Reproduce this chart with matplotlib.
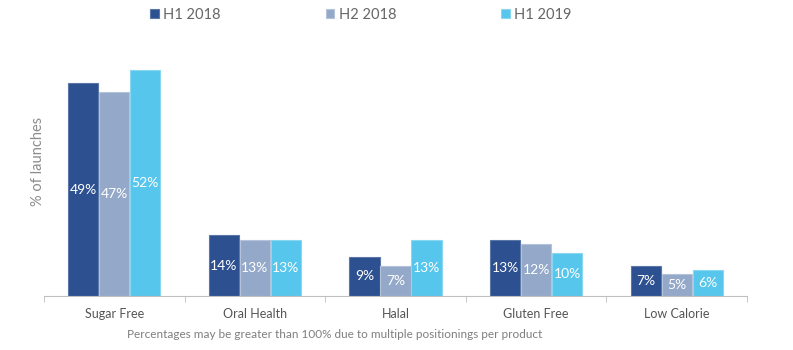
import numpy as np
import matplotlib.pyplot as plt

categories = ["Sugar Free", "Oral Health", "Halal", "Gluten Free", "Low Calorie"]
series = ["H1 2018", "H2 2018", "H1 2019"]
h1_2018 = [49, 14, 9, 13, 7]
h2_2018 = [47, 13, 7, 12, 5]
h1_2019 = [52, 13, 13, 10, 6]
colors = ["#2C5090", "#94A8C9", "#57C6EC"]
edges = ["#5B77A8", "#B5C3DA", "#8AD7F1"]

plt.rcParams['font.family'] = ['Lato', 'DejaVu Sans']

fig = plt.figure(figsize=(7.93, 3.5), dpi=100)
ax = fig.add_axes([44 / 793, 54 / 350, 703 / 793, 242 / 350])

x = np.arange(len(categories))
w = 0.215
offs = [-0.22, 0, 0.22]
for vals, off, c, ec, name in zip([h1_2018, h2_2018, h1_2019], offs, colors, edges, series):
    bars = ax.bar(x + off, vals, w, color=c, edgecolor=ec, linewidth=0.8, label=name)
    for b, v in zip(bars, vals):
        ax.text(b.get_x() + b.get_width() / 2, v / 2, f"{v}%", ha='center', va='center',
                color='white', fontsize=10)

ax.set_xlim(-0.5, 4.5)
ax.set_ylim(0, 55.8)
ax.set_yticks([])
for s in ['top', 'right', 'left']:
    ax.spines[s].set_visible(False)
ax.spines['bottom'].set_color('#BFBFBF')
ax.set_xticks(x)
ax.set_xticklabels(categories, fontsize=9, color='#555555')
ax.tick_params(axis='x', which='major', length=0, pad=9)
ax.set_xticks(np.arange(-0.5, 5, 1), minor=True)
ax.tick_params(axis='x', which='minor', length=4, color='#BFBFBF', direction='out')

fig.text(38 / 793, 0.54, "% of launches", rotation=90, ha='center', va='center',
         fontsize=10.5, color='#8C8C8C')
fig.text(335 / 793, 1 - 334 / 350,
         "Percentages may be greater than 100% due to multiple positionings per product",
         ha='center', va='center', fontsize=8.5, color='#7F7F7F')

fig.legend(loc='center', bbox_to_anchor=(0.455, 1 - 15 / 350), ncol=3, frameon=False,
           fontsize=10.5, labelcolor='#666666', handlelength=0.6, handleheight=0.6,
           handletextpad=0.3, columnspacing=7.2)

fig.savefig('out.png', dpi=100)
